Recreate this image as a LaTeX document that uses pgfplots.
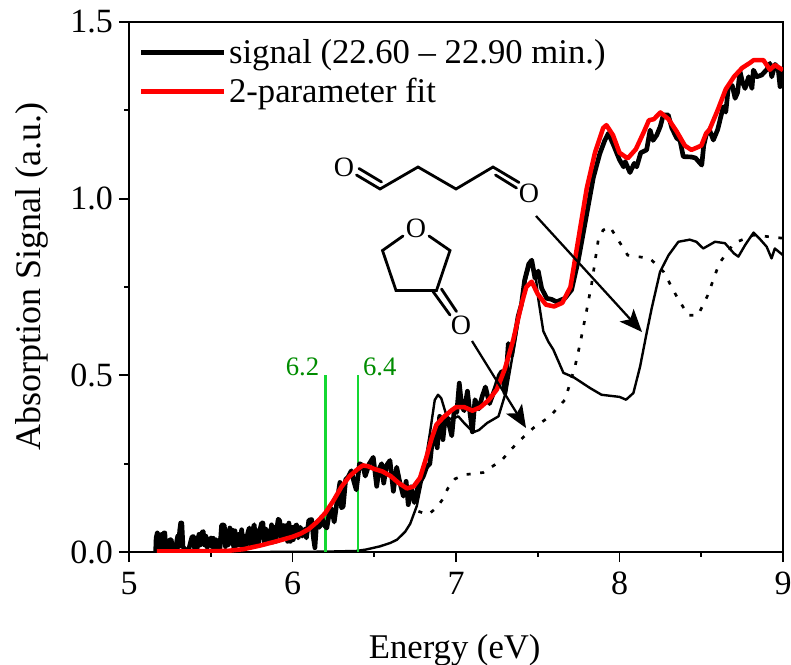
\documentclass[border=0pt]{standalone}
\usepackage{pgfplots}
\pgfplotsset{compat=1.18}
\usepackage{fontspec}
\setmainfont{Liberation Serif}
\usetikzlibrary{arrows.meta}
\definecolor{brightgreen}{RGB}{20,215,50}
\definecolor{darkgreen}{RGB}{0,140,0}
\begin{document}
\begin{tikzpicture}
\path[use as bounding box] (-96.75pt,-84pt) rectangle (496.5pt,414pt);
\begin{axis}[
  at={(0,0)},anchor=south west,scale only axis,
  width=490.5pt,height=397.5pt,
  xmin=5,xmax=9,ymin=0,ymax=1.5,
  xtick={5,6,7,8,9},ytick={0,0.5,1,1.5},
  minor xtick={5.5,6.5,7.5,8.5},minor ytick={0.25,0.75,1.25},
  tick align=outside,tick pos=left,
  major tick length=7.5pt,minor tick length=3.5pt,
  every tick/.style={black,line width=1.3pt},
  axis line style={line width=1.3pt},
  /pgf/number format/assume math mode=true,
  yticklabel style={/pgf/number format/fixed,/pgf/number format/fixed zerofill,/pgf/number format/precision=1,font=\fontsize{25.5}{28}\selectfont,xshift=-1pt},
  xticklabel style={font=\fontsize{25.5}{28}\selectfont,yshift=-4pt},
  xlabel={Energy (eV)},ylabel={Absorption Signal (a.u.)},
  xlabel style={font=\fontsize{26}{28}\selectfont,at={(axis description cs:0.498,-0.186)},anchor=center},
  ylabel style={font=\fontsize{27}{29}\selectfont,at={(axis description cs:-0.148,0.519)},anchor=center},
  legend cell align=left,
  legend style={at={(axis description cs:0.015,0.972)},anchor=north west,draw=none,fill=none,font=\fontsize{26}{30}\selectfont,row sep=5.5pt,inner sep=0pt},
  legend image code/.code={\draw[#1] (0pt,0pt) -- (58pt,0pt);\path (0pt,0pt) -- (62pt,0pt);},
]
% reference solid spectrum
\addplot[forget plot,black,line width=1.8pt,line join=round] table {
5.8 0.000
6.2 0.001
6.39 0.003
6.45 0.007
6.535 0.016
6.60 0.026
6.64 0.035
6.69 0.058
6.72 0.080
6.76 0.130
6.80 0.220
6.84 0.335
6.87 0.430
6.89 0.445
6.91 0.435
6.943 0.384
6.97 0.375
7.014 0.384
7.05 0.365
7.106 0.339
7.14 0.345
7.19 0.365
7.26 0.384
7.31 0.460
7.37 0.620
7.41 0.740
7.46 0.826
7.485 0.790
7.504 0.714
7.534 0.625
7.565 0.595
7.595 0.573
7.657 0.507
7.718 0.495
7.82 0.464
7.89 0.445
8.0 0.439
8.04 0.431
8.085 0.450
8.126 0.525
8.166 0.620
8.197 0.690
8.248 0.793
8.30 0.840
8.36 0.878
8.43 0.884
8.47 0.878
8.512 0.859
8.584 0.878
8.645 0.874
8.70 0.845
8.727 0.836
8.77 0.870
8.82 0.904
8.86 0.885
8.90 0.864
8.93 0.831
8.95 0.859
9.0 0.840
};
% reference dotted spectrum
\addplot[forget plot,black,line width=2pt,dash pattern=on 3pt off 7.2pt] table {
6.77 0.115
6.83 0.106
6.88 0.125
6.92 0.150
6.95 0.180
6.994 0.207
7.055 0.219
7.167 0.225
7.28 0.260
7.37 0.307
7.473 0.351
7.575 0.384
7.667 0.431
7.728 0.525
7.759 0.590
7.80 0.686
7.83 0.760
7.87 0.883
7.90 0.911
7.94 0.921
7.98 0.892
8.05 0.840
8.186 0.831
8.27 0.793
8.35 0.723
8.42 0.670
8.48 0.670
8.54 0.727
8.61 0.817
8.70 0.874
8.82 0.897
9.0 0.888
};
% green markers
\addplot[forget plot,brightgreen,line width=2.1pt] coordinates {(6.2,0) (6.2,0.5)};
\addplot[forget plot,brightgreen,line width=2.1pt] coordinates {(6.4,0) (6.4,0.5)};
% signal
\addplot[black,line width=3.5pt,line join=round] table {
5.163 0.000
5.166 0.040
5.173 0.054
5.178 0.012
5.183 0.050
5.188 0.048
5.193 0.010
5.200 0.050
5.207 0.012
5.214 0.054
5.219 0.054
5.225 0.010
5.235 0.006
5.245 0.030
5.252 0.035
5.258 0.035
5.268 0.006
5.285 0.008
5.292 0.030
5.298 0.045
5.304 0.015
5.310 0.060
5.316 0.082
5.323 0.082
5.330 0.015
5.345 0.006
5.365 0.006
5.375 0.025
5.385 0.042
5.393 0.044
5.400 0.012
5.410 0.040
5.418 0.012
5.428 0.050
5.436 0.020
5.446 0.055
5.454 0.058
5.462 0.020
5.470 0.045
5.478 0.012
5.490 0.030
5.500 0.040
5.508 0.015
5.515 0.039
5.522 0.012
5.532 0.035
5.540 0.012
5.550 0.035
5.557 0.012
5.566 0.075
5.574 0.077
5.583 0.075
5.590 0.015
5.598 0.060
5.606 0.020
5.617 0.068
5.624 0.025
5.632 0.062
5.640 0.015
5.648 0.060
5.656 0.018
5.668 0.050
5.676 0.020
5.689 0.063
5.698 0.018
5.708 0.045
5.716 0.020
5.727 0.055
5.736 0.068
5.744 0.020
5.755 0.060
5.766 0.077
5.774 0.022
5.784 0.060
5.792 0.025
5.802 0.065
5.811 0.082
5.819 0.082
5.827 0.028
5.836 0.065
5.845 0.030
5.855 0.060
5.863 0.030
5.872 0.077
5.880 0.028
5.890 0.070
5.898 0.030
5.905 0.070
5.913 0.093
5.922 0.088
5.932 0.035
5.945 0.075
5.955 0.040
5.963 0.075
5.970 0.030
5.978 0.082
5.987 0.030
5.997 0.070
6.005 0.035
6.016 0.072
6.025 0.077
6.035 0.040
6.048 0.070
6.060 0.045
6.075 0.065
6.085 0.040
6.100 0.090
6.117 0.092
6.128 0.040
6.137 0.012
6.148 0.085
6.165 0.070
6.178 0.100
6.195 0.075
6.210 0.068
6.225 0.110
6.240 0.122
6.255 0.085
6.270 0.135
6.290 0.197
6.300 0.125
6.310 0.129
6.325 0.205
6.340 0.212
6.360 0.230
6.375 0.200
6.390 0.176
6.410 0.250
6.430 0.245
6.445 0.215
6.470 0.250
6.494 0.268
6.515 0.186
6.530 0.235
6.545 0.250
6.558 0.195
6.575 0.245
6.596 0.259
6.617 0.172
6.637 0.240
6.655 0.200
6.678 0.158
6.695 0.200
6.708 0.134
6.725 0.185
6.745 0.140
6.770 0.190
6.800 0.214
6.820 0.240
6.840 0.250
6.855 0.315
6.870 0.335
6.885 0.295
6.900 0.384
6.920 0.318
6.935 0.385
6.955 0.365
6.974 0.329
6.990 0.405
7.005 0.395
7.020 0.478
7.035 0.412
7.050 0.400
7.070 0.455
7.085 0.395
7.100 0.340
7.116 0.431
7.140 0.405
7.160 0.440
7.180 0.467
7.205 0.420
7.240 0.464
7.265 0.500
7.280 0.511
7.300 0.450
7.320 0.590
7.340 0.555
7.380 0.667
7.400 0.700
7.420 0.770
7.445 0.815
7.463 0.826
7.483 0.775
7.503 0.795
7.524 0.746
7.555 0.718
7.585 0.715
7.615 0.708
7.666 0.718
7.707 0.742
7.748 0.826
7.800 0.958
7.840 1.060
7.880 1.128
7.910 1.165
7.932 1.185
7.965 1.150
8.000 1.110
8.025 1.090
8.035 1.105
8.064 1.074
8.090 1.100
8.105 1.090
8.130 1.130
8.166 1.138
8.187 1.194
8.205 1.165
8.228 1.180
8.250 1.205
8.268 1.237
8.298 1.237
8.320 1.200
8.350 1.171
8.370 1.165
8.390 1.119
8.440 1.118
8.465 1.115
8.503 1.095
8.515 1.150
8.530 1.180
8.550 1.195
8.574 1.166
8.600 1.195
8.615 1.223
8.635 1.260
8.650 1.245
8.666 1.317
8.690 1.320
8.707 1.284
8.722 1.300
8.737 1.360
8.752 1.330
8.768 1.312
8.790 1.345
8.810 1.312
8.819 1.364
8.840 1.345
8.870 1.350
8.900 1.365
8.920 1.383
8.931 1.345
8.952 1.380
8.970 1.370
8.982 1.317
8.992 1.362
9.000 1.365
};
\addlegendentry{signal (22.60 -- 22.90 min.)}
% fit
\addplot[red,line width=3.4pt,line join=round] table {
5.17 0.002
5.40 0.002
5.60 0.003
5.70 0.008
5.80 0.018
5.90 0.030
6.00 0.043
6.05 0.052
6.10 0.065
6.15 0.085
6.20 0.110
6.25 0.145
6.30 0.185
6.35 0.215
6.40 0.235
6.43 0.245
6.46 0.243
6.50 0.235
6.55 0.228
6.60 0.215
6.65 0.195
6.70 0.180
6.74 0.185
6.78 0.210
6.82 0.270
6.85 0.320
6.88 0.360
6.92 0.380
6.97 0.400
7.00 0.410
7.05 0.410
7.10 0.400
7.15 0.410
7.20 0.430
7.25 0.460
7.30 0.520
7.35 0.600
7.40 0.700
7.43 0.750
7.463 0.765
7.50 0.730
7.55 0.700
7.60 0.695
7.65 0.705
7.70 0.750
7.75 0.890
7.80 1.030
7.85 1.130
7.90 1.200
7.92 1.208
7.96 1.180
8.00 1.130
8.05 1.114
8.10 1.140
8.15 1.190
8.18 1.222
8.21 1.225
8.25 1.244
8.30 1.225
8.35 1.190
8.40 1.150
8.44 1.138
8.50 1.150
8.53 1.185
8.55 1.195
8.60 1.250
8.65 1.310
8.70 1.345
8.75 1.370
8.80 1.385
8.82 1.392
8.88 1.392
8.92 1.365
8.95 1.378
9.00 1.364
};
\addlegendentry{2-parameter fit}
\node[text=darkgreen,font=\fontsize{20}{22}\selectfont,anchor=east,inner sep=0pt] at (axis cs:6.165,0.525) {6.2};
\node[text=darkgreen,font=\fontsize{20}{22}\selectfont,anchor=west,inner sep=0pt] at (axis cs:6.43,0.525) {6.4};
\end{axis}
\begin{scope}[x=0.75pt,y=-0.75pt,shift={(-96.75pt,414pt)},line width=2.1pt,line cap=round,line join=miter]
% dialdehyde
\node[font=\fontsize{21}{23}\selectfont,inner sep=0pt] at (344,167) {O};
\node[font=\fontsize{21}{23}\selectfont,inner sep=0pt] at (529,193) {O};
\draw (359,168.5) -- (381.5,182);
\draw (356.5,175) -- (380,189) -- (418,167) -- (456,189) -- (493,167) -- (519,182.5);
\draw (495.5,175) -- (516.5,188);
% lactone
\node[font=\fontsize{21}{23}\selectfont,inner sep=0pt] at (416,228) {O};
\node[font=\fontsize{21}{23}\selectfont,inner sep=0pt] at (461,325) {O};
\draw (403,236) -- (382.5,250.5) -- (396,290.5) -- (436.5,290.5) -- (450,250.5) -- (429,236);
\draw (433,291.5) -- (450,315);
\draw (441.5,289) -- (456.5,311.5);
% arrows
\draw[-{Stealth[length=17pt,width=14pt,inset=4pt]},line width=1.7pt,line cap=butt] (536,216) -- (642,332);
\draw[-{Stealth[length=17pt,width=14pt,inset=4pt]},line width=1.7pt,line cap=butt] (472,341) -- (526,428);
\end{scope}
\end{tikzpicture}
\end{document}
